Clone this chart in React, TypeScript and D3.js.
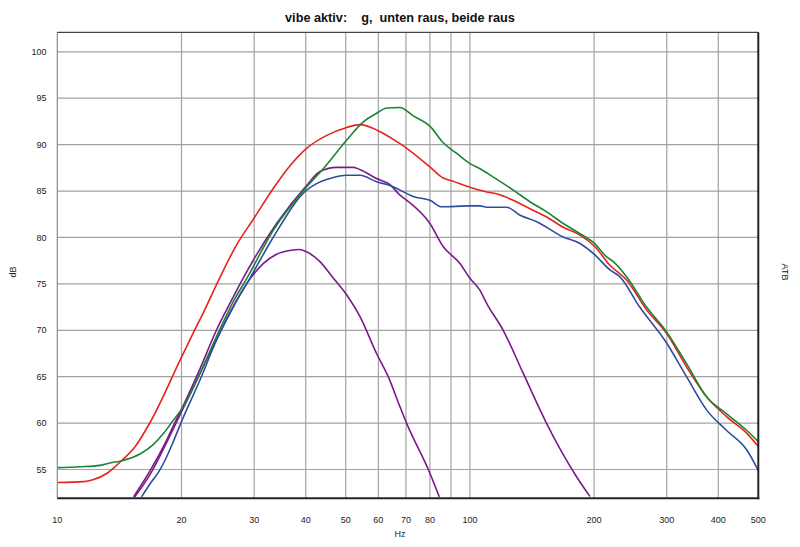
import React from "react";
import * as d3 from "d3";

const W = 800;
const H = 547;
const M = { left: 57.3, right: 758.3, top: 32.3, bottom: 498.3 };

const xTickValues = [10, 20, 30, 40, 50, 60, 70, 80, 100, 200, 300, 400, 500];
const xGridValues = [20, 30, 40, 50, 60, 70, 80, 90, 100, 200, 300, 400];
const yTickValues = [55, 60, 65, 70, 75, 80, 85, 90, 95, 100];

const titleText = "vibe aktiv:    g,  unten raus, beide raus";

// [Hz, dB]
const redCurve: [number, number][] = [
  [10, 53.6], [11.6, 53.7], [12.2, 53.9], [13.2, 54.6], [13.8, 55.3], [14.35, 56.0],
  [15.4, 57.4], [16.8, 60.1], [20, 67.1], [21.4, 69.8], [22.6, 71.9], [24.3, 74.9],
  [27.2, 79.2], [30, 82.1], [33.4, 85.3], [36.6, 87.7], [40.2, 89.6], [45, 91.0],
  [50.3, 91.85], [54.2, 92.15], [58, 91.8], [61.7, 91.2], [67.7, 90.1], [70.3, 89.6],
  [80, 87.6], [86.2, 86.4], [90.3, 86.1], [100, 85.4], [109.8, 84.9], [116, 84.7],
  [127.4, 84.0], [139.8, 83.1], [153.5, 82.2], [168.4, 81.1], [184.9, 80.25],
  [201, 79.0], [218.5, 77.0], [240, 75.4], [268, 72.2], [300, 69.65], [335, 66.05],
  [375, 62.8], [419, 60.7], [469, 58.9], [500, 57.5],
];

const greenCurve: [number, number][] = [
  [10, 55.2], [11.35, 55.3], [12.7, 55.45], [13.4, 55.7], [14.35, 55.95], [15.9, 56.7],
  [17.0, 57.6], [18.1, 58.9], [19.1, 60.3], [20.2, 61.75], [22.2, 65.4], [24.3, 69.3],
  [26.7, 73.1], [28.8, 75.6], [33.4, 80.8], [40.2, 85.45], [44.1, 87.4], [50.3, 90.5],
  [55, 92.4], [59, 93.3], [63, 93.95], [67.7, 94.0], [72.9, 93.1], [80, 92.0],
  [86.2, 90.2], [92.9, 89.05], [100, 87.95], [105.8, 87.4], [114, 86.5], [127.4, 85.1],
  [139.8, 83.85], [153.5, 82.75], [168.4, 81.5], [184.9, 80.4], [201, 79.3],
  [214.5, 77.9], [222.6, 77.4], [240, 75.75], [268, 72.5], [300, 69.8], [335, 66.4],
  [375, 62.8], [419, 61.0], [469, 59.2], [500, 58.0],
];

const blueCurve: [number, number][] = [
  [16.0, 52.05], [16.8, 53.5], [17.7, 54.9], [18.4, 56.35], [19.1, 58.0], [20.1, 60.4],
  [22.2, 64.7], [24.3, 68.9], [26.7, 72.5], [29.3, 75.6], [33.4, 80.05], [40.2, 85.1],
  [42.5, 85.8], [45.8, 86.35], [50.3, 86.7], [54.2, 86.7], [59.4, 86.0], [64.0, 85.6],
  [67.7, 85.1], [72.9, 84.4], [80, 84.0], [85.4, 83.3], [100, 83.4], [105.8, 83.4],
  [109.8, 83.25], [122.8, 83.25], [132.3, 82.4], [145.2, 81.7], [168.4, 80.05],
  [184.9, 79.35], [200, 78.2], [218.5, 76.5], [231, 75.75], [258, 72.5], [300, 68.6],
  [335, 65.0], [375, 61.4], [419, 59.2], [469, 57.1], [500, 54.9],
];

const purpleHighCurve: [number, number][] = [
  [15.3, 52.05], [16.8, 54.9], [18.4, 58.15], [19.3, 60.1], [20.2, 61.9],
  [22.2, 65.9], [24.3, 70.0], [26.2, 72.9], [28.2, 75.6], [34.0, 81.5], [40.2, 85.6],
  [43.3, 87.1], [47.6, 87.55], [52.2, 87.55], [54.2, 87.3], [59.4, 86.35], [64.0, 85.7],
  [67.7, 84.55], [70.3, 84.0], [80, 81.5], [86.2, 79.0], [94.6, 77.2], [100, 75.6],
  [105.8, 74.3], [109.8, 72.9], [120.4, 70.0], [134.7, 65.35], [153.5, 59.95],
  [166.9, 56.9], [181.5, 54.2], [195.4, 52.1],
];

const purpleLowCurve: [number, number][] = [
  [15.4, 52.05], [16.8, 54.5], [18.4, 57.9], [20.2, 61.6], [22.2, 65.4], [24.3, 69.0],
  [26.2, 71.9], [28.8, 75.05], [31.6, 77.2], [34.0, 78.2], [36.6, 78.6], [38.7, 78.7],
  [40.2, 78.45], [43.3, 77.4], [46.7, 75.6], [50.3, 73.8], [54.2, 71.45], [59.4, 67.5],
  [63.4, 65.0], [67.7, 61.75], [70.3, 59.95], [80, 54.6], [84.3, 52.05],
];

const seriesList = [
  { name: "purpleLow", data: purpleLowCurve, color: "#7b1a8c" },
  { name: "purpleHigh", data: purpleHighCurve, color: "#7b1a8c" },
  { name: "blue", data: blueCurve, color: "#2d4ea0" },
  { name: "red", data: redCurve, color: "#e8231c" },
  { name: "green", data: greenCurve, color: "#1b8434" },
];

export default function App() {
  React.useEffect(() => {
    document.body.style.margin = "0";
  }, []);

  const x = d3.scaleLog().domain([10, 500]).range([M.left, M.right]);
  const y = d3.scaleLinear().domain([51.9, 102.1]).range([M.bottom, M.top]);
  const line = d3
    .line<[number, number]>()
    .x((d) => x(d[0]))
    .y((d) => y(d[1]))
    .curve(d3.curveMonotoneX);

  const font = "Arial, 'Liberation Sans', sans-serif";

  return (
    <svg
      width={W}
      height={H}
      viewBox={`0 0 ${W} ${H}`}
      style={{ position: "absolute", left: 0, top: 0, background: "#fff", display: "block" }}
    >
      <rect x={0} y={0} width={W} height={H} fill="#fff" />
      <defs>
        <clipPath id="plot">
          <rect x={M.left} y={M.top} width={M.right - M.left} height={M.bottom - M.top} />
        </clipPath>
      </defs>
      <text
        x={400}
        y={22}
        textAnchor="middle"
        fontFamily={font}
        fontWeight="bold"
        fontSize={12.7}
        fill="#111"
        style={{ whiteSpace: "pre" }}
      >
        {titleText}
      </text>

      {yTickValues.map((v) => (
        <line key={"gy" + v} x1={M.left} x2={M.right} y1={y(v)} y2={y(v)} stroke="#a3a3a3" strokeWidth={1.2} />
      ))}
      {xGridValues.map((v) => (
        <line key={"gx" + v} x1={x(v)} x2={x(v)} y1={M.top} y2={M.bottom} stroke="#a3a3a3" strokeWidth={1.2} />
      ))}

      <g clipPath="url(#plot)">
        {seriesList.map((s) => (
          <path key={s.name} d={line(s.data) || ""} fill="none" stroke={s.color} strokeWidth={1.6} />
        ))}
      </g>

      <line x1={M.left} x2={M.left} y1={M.top} y2={M.bottom} stroke="#8a8a8a" strokeWidth={1.2} />
      <line x1={M.left} x2={M.right} y1={M.top} y2={M.top} stroke="#444" strokeWidth={1.2} />
      <line x1={M.right} x2={M.right} y1={M.top} y2={M.bottom + 1} stroke="#222" strokeWidth={2} />
      <line x1={M.left} x2={M.right + 1} y1={M.bottom} y2={M.bottom} stroke="#222" strokeWidth={2} />

      {yTickValues.map((v) => (
        <text key={"ty" + v} x={46.5} y={y(v) + 3.2} textAnchor="end" fontFamily={font} fontSize={9} fill="#222">
          {v}
        </text>
      ))}
      {xTickValues.map((v) => (
        <text key={"tx" + v} x={x(v)} y={522.5} textAnchor="middle" fontFamily={font} fontSize={9} fill="#222">
          {v}
        </text>
      ))}
      <text x={400} y={536.5} textAnchor="middle" fontFamily={font} fontSize={9} fill="#222">
        Hz
      </text>
      <text
        transform={`translate(16,272) rotate(-90)`}
        textAnchor="middle"
        fontFamily={font}
        fontSize={9}
        fill="#222"
      >
        dB
      </text>
      <text
        transform={`translate(782,272) rotate(90)`}
        textAnchor="middle"
        fontFamily={font}
        fontSize={9}
        fill="#222"
      >
        ATB
      </text>
    </svg>
  );
}
